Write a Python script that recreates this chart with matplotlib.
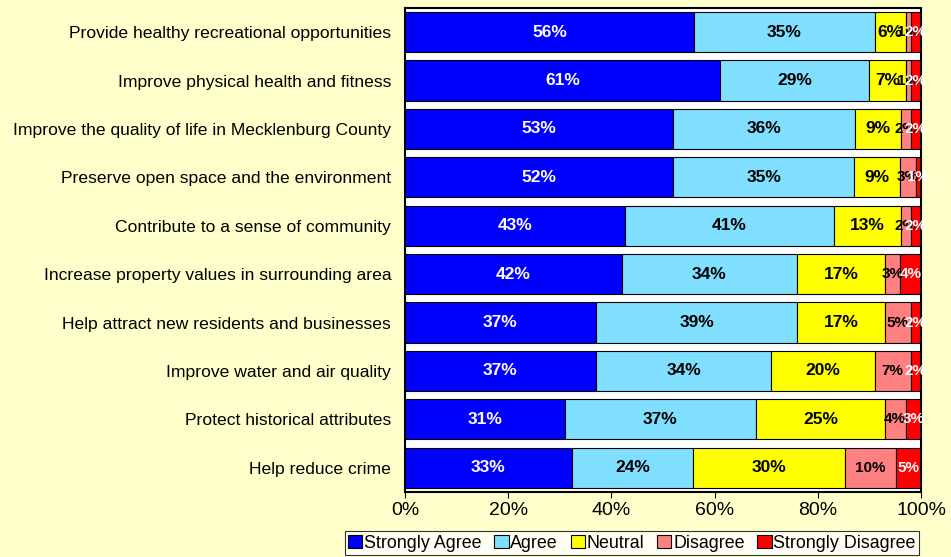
import matplotlib.pyplot as plt
import numpy as np

plt.rcParams['font.family'] = ['Liberation Sans', 'DejaVu Sans']

categorias = [
    "Provide healthy recreational opportunities",
    "Improve physical health and fitness",
    "Improve the quality of life in Mecklenburg County",
    "Preserve open space and the environment",
    "Contribute to a sense of community",
    "Increase property values in surrounding area",
    "Help attract new residents and businesses",
    "Improve water and air quality",
    "Protect historical attributes",
    "Help reduce crime",
]
muy_de_acuerdo = [56, 61, 53, 52, 43, 42, 37, 37, 31, 33]
de_acuerdo = [35, 29, 36, 35, 41, 34, 39, 34, 37, 24]
neutral = [6, 7, 9, 9, 13, 17, 17, 20, 25, 30]
desacuerdo = [1, 1, 2, 3, 2, 3, 5, 7, 4, 10]
muy_desacuerdo = [2, 2, 2, 1, 2, 4, 2, 2, 3, 5]

series = [muy_de_acuerdo, de_acuerdo, neutral, desacuerdo, muy_desacuerdo]
nombres = ["Strongly Agree", "Agree", "Neutral", "Disagree", "Strongly Disagree"]
colores = ["#0000FF", "#80DFFF", "#FFFF00", "#FF8080", "#FF0000"]
color_texto = ["white", "black", "black", "black", "white"]
tam_texto = [12.5, 12.5, 12.5, 11, 11]

datos = np.array(series, dtype=float)
# barras al 100%: se normaliza cada fila
pct = datos / datos.sum(axis=0) * 100

fig = plt.figure(figsize=(9.51, 5.57), dpi=100, facecolor="#FFFFCC")
ax = fig.add_axes([0.4259, 0.1167, 0.5426, 0.869])
ax.set_facecolor("white")

y = np.arange(len(categorias))
izq = np.zeros(len(categorias))
for i in range(len(series)):
    barras = ax.barh(y, pct[i], left=izq, height=0.83, color=colores[i],
                     edgecolor="black", linewidth=0.8, label=nombres[i])
    etiquetas = [f"{int(v)}%" for v in series[i]]
    ax.bar_label(barras, labels=etiquetas, label_type="center",
                 color=color_texto[i], fontsize=tam_texto[i], fontweight="bold")
    izq += pct[i]

ax.set_xlim(0, 100)
ax.set_ylim(len(categorias) - 0.5, -0.5)
ax.set_yticks(y)
ax.set_yticklabels(categorias, fontsize=12.6)
ax.tick_params(axis="y", length=0, pad=10)
ax.set_xticks([0, 20, 40, 60, 80, 100])
ax.set_xticklabels(["0%", "20%", "40%", "60%", "80%", "100%"], fontsize=14)
ax.tick_params(axis="x", length=4, direction="out")
for lado in ax.spines.values():
    lado.set_color("black")
    lado.set_linewidth(1.5)

leg = fig.legend(loc="lower right", bbox_to_anchor=(0.9685, 0.0), ncol=5,
                 fontsize=12.9, frameon=True, fancybox=False, edgecolor="black",
                 handlelength=0.8, handleheight=0.8, handletextpad=0.1,
                 columnspacing=0.7, borderpad=0.2, borderaxespad=0.1)
leg.get_frame().set_linewidth(0.8)

plt.savefig("out.png", dpi=100, facecolor=fig.get_facecolor())
plt.close()
